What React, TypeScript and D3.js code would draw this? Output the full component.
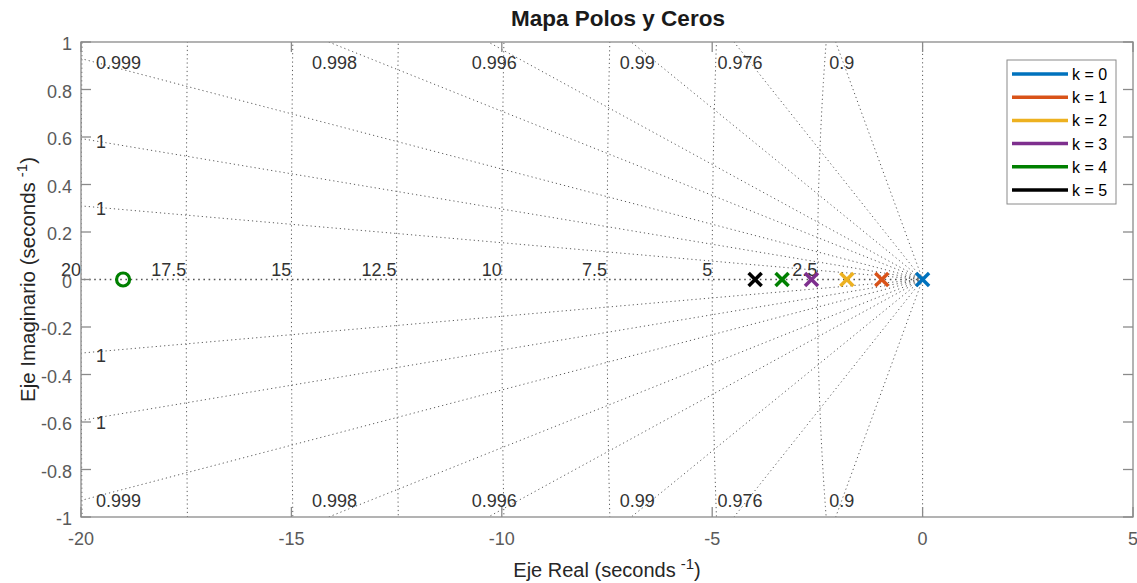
import React from "react";
import * as d3 from "d3";

const seriesLabels = ["k = 0", "k = 1", "k = 2", "k = 3", "k = 4", "k = 5"];
const seriesColors = ["#0072BD", "#D95319", "#EDB120", "#7E2F8E", "#008000", "#000000"];
const poleReal = [0, -0.97, -1.8, -2.64, -3.34, -3.98];
const poleImag = [0, 0, 0, 0, 0, 0];
const zeroReal = [-19];
const zeroImag = [0];
const zeroColor = "#008000";

const dampingRatios = [0.99988, 0.99956, 0.99892, 0.9975, 0.99534, 0.98973, 0.976, 0.9];
const dampingLabels = ["1", "1", "0.999", "0.998", "0.996", "0.99", "0.976", "0.9"];
const natFreqs = [2.5, 5, 7.5, 10, 12.5, 15, 17.5, 20];
const natFreqLabels = ["2.5", "5", "7.5", "10", "12.5", "15", "17.5", "20"];

const xTicks = [-20, -15, -10, -5, 0, 5];
const yTicks = [-1, -0.8, -0.6, -0.4, -0.2, 0, 0.2, 0.4, 0.6, 0.8, 1];
const xDomain = [-20, 5];
const yDomain = [-1, 1];

const W = 1137;
const H = 583;
const L = 81, R = 1133, T = 42, B = 517;
const FONT = "'Liberation Sans', Arial, Helvetica, sans-serif";

export default function App() {
  const x = d3.scaleLinear().domain(xDomain).range([L, R]);
  const y = d3.scaleLinear().domain(yDomain).range([B, T]);
  const line = d3.line<[number, number]>().x((d) => x(d[0])).y((d) => y(d[1]));

  const gridStroke = "#5c5c5c";
  const dash = "1.2,3";

  const dampLines: { path: string; lx: number; ly: number; anchor: string; label: string }[] = [];
  dampingRatios.forEach((z, i) => {
    const s = Math.sqrt(1 - z * z) / z;
    const xmax = -xDomain[0];
    const t = Math.min(xmax, yDomain[1] / s);
    [1, -1].forEach((sg) => {
      const ex = -t, ey = sg * s * t;
      const path = line([[0, 0], [ex, ey]]) as string;
      let lx: number, ly: number, anchor: string;
      if (t < xmax) {
        lx = x(ex) + 6;
        ly = sg > 0 ? T + 27 : B - 10;
        anchor = "middle";
      } else {
        lx = L + 15;
        ly = Math.max(T + 27, Math.min(B - 10, y(ey) + 9));
        anchor = "start";
      }
      dampLines.push({ path, lx, ly, anchor, label: dampingLabels[i] });
    });
  });

  const circles = natFreqs.map((w, i) => {
    const pts: [number, number][] = d3.range(0, 401).map((k) => {
      const th = -Math.PI / 2 + (Math.PI * k) / 400;
      return [-w * Math.cos(th), w * Math.sin(th)];
    });
    return { path: line(pts) as string, lx: x(-w), label: natFreqLabels[i] };
  });

  const xs = 6.5;
  return (
    <svg width={W} height={H} style={{ position: "absolute", left: 0, top: 0, background: "#fff" }} fontFamily={FONT}>
      <defs>
        <clipPath id="plotclip">
          <rect x={L} y={T} width={R - L} height={B - T} />
        </clipPath>
      </defs>
      <rect x={0} y={0} width={W} height={H} fill="#fff" />
      <g clipPath="url(#plotclip)">
        {circles.map((c, i) => (
          <path key={"c" + i} d={c.path} fill="none" stroke={gridStroke} strokeWidth={1} strokeDasharray={dash} />
        ))}
        {dampLines.map((d, i) => (
          <path key={"d" + i} d={d.path} fill="none" stroke={gridStroke} strokeWidth={1} strokeDasharray={dash} />
        ))}
        <path d={line([[0, 0], [xDomain[0], 0]]) as string} stroke="#555" strokeWidth={1.6} strokeDasharray="1.6,3.6" fill="none" />
        <path d={line([[0, yDomain[0]], [0, yDomain[1]]]) as string} stroke={gridStroke} strokeWidth={1} strokeDasharray={dash} fill="none" />
      </g>
      {dampLines.map((d, i) => (
        <text key={"dl" + i} x={d.lx} y={d.ly} textAnchor={d.anchor} fontSize={18} fill="#333">{d.label}</text>
      ))}
      {circles.map((c, i) => (
        <text key={"cl" + i} x={c.lx} y={y(0) - 4} textAnchor="end" fontSize={18} fill="#333">{c.label}</text>
      ))}
      <rect x={L} y={T} width={R - L} height={B - T} fill="none" stroke="#8a8a8a" strokeWidth={1.3} />
      {xTicks.map((t) => (
        <g key={"xt" + t}>
          <line x1={x(t)} x2={x(t)} y1={B} y2={B - 10} stroke="#8a8a8a" strokeWidth={1.3} />
          <line x1={x(t)} x2={x(t)} y1={T} y2={T + 10} stroke="#8a8a8a" strokeWidth={1.3} />
          <text x={x(t)} y={B + 28} textAnchor="middle" fontSize={18} fill="#5a5a5a">{String(t)}</text>
        </g>
      ))}
      {yTicks.map((t) => (
        <g key={"yt" + t}>
          <line x1={L} x2={L + 10} y1={y(t)} y2={y(t)} stroke="#8a8a8a" strokeWidth={1.3} />
          <line x1={R} x2={R - 10} y1={y(t)} y2={y(t)} stroke="#8a8a8a" strokeWidth={1.3} />
          <text x={L - 9} y={y(t) + 8} textAnchor="end" fontSize={18} fill="#5a5a5a">{String(t)}</text>
        </g>
      ))}
      {zeroReal.map((zr, i) => (
        <circle key={"z" + i} cx={x(zr)} cy={y(zeroImag[i])} r={6.5} fill="none" stroke={zeroColor} strokeWidth={3.2} />
      ))}
      {poleReal.map((pr, i) => {
        const cx = x(pr), cy = y(poleImag[i]);
        return (
          <g key={"p" + i} stroke={seriesColors[i]} strokeWidth={3.5} strokeLinecap="butt">
            <line x1={cx - xs} y1={cy - xs} x2={cx + xs} y2={cy + xs} />
            <line x1={cx - xs} y1={cy + xs} x2={cx + xs} y2={cy - xs} />
          </g>
        );
      })}
      <text x={618} y={26} textAnchor="middle" fontSize={22.5} fontWeight="bold" fill="#1a1a1a">Mapa Polos y Ceros</text>
      <text x={(L + R) / 2} y={577} textAnchor="middle" fontSize={20} fill="#262626">
        Eje Real (seconds<tspan dx={5} dy={-8} fontSize={15}>-1</tspan><tspan dy={8}>)</tspan>
      </text>
      <text transform={`translate(35,${(T + B) / 2}) rotate(-90)`} textAnchor="middle" fontSize={20.5} fill="#262626">
        Eje Imaginario (seconds<tspan dx={5} dy={-8} fontSize={15}>-1</tspan><tspan dy={8}>)</tspan>
      </text>
      <rect x={1007} y={60} width={109} height={144} fill="#fff" stroke="#8a8a8a" strokeWidth={1} />
      {seriesLabels.map((lab, i) => {
        const cy = 74 + i * 23.2;
        return (
          <g key={"lg" + i}>
            <line x1={1012} x2={1068} y1={cy} y2={cy} stroke={seriesColors[i]} strokeWidth={3.5} />
            <text x={1072} y={cy + 6} fontSize={16} fill="#000">{lab}</text>
          </g>
        );
      })}
    </svg>
  );
}
